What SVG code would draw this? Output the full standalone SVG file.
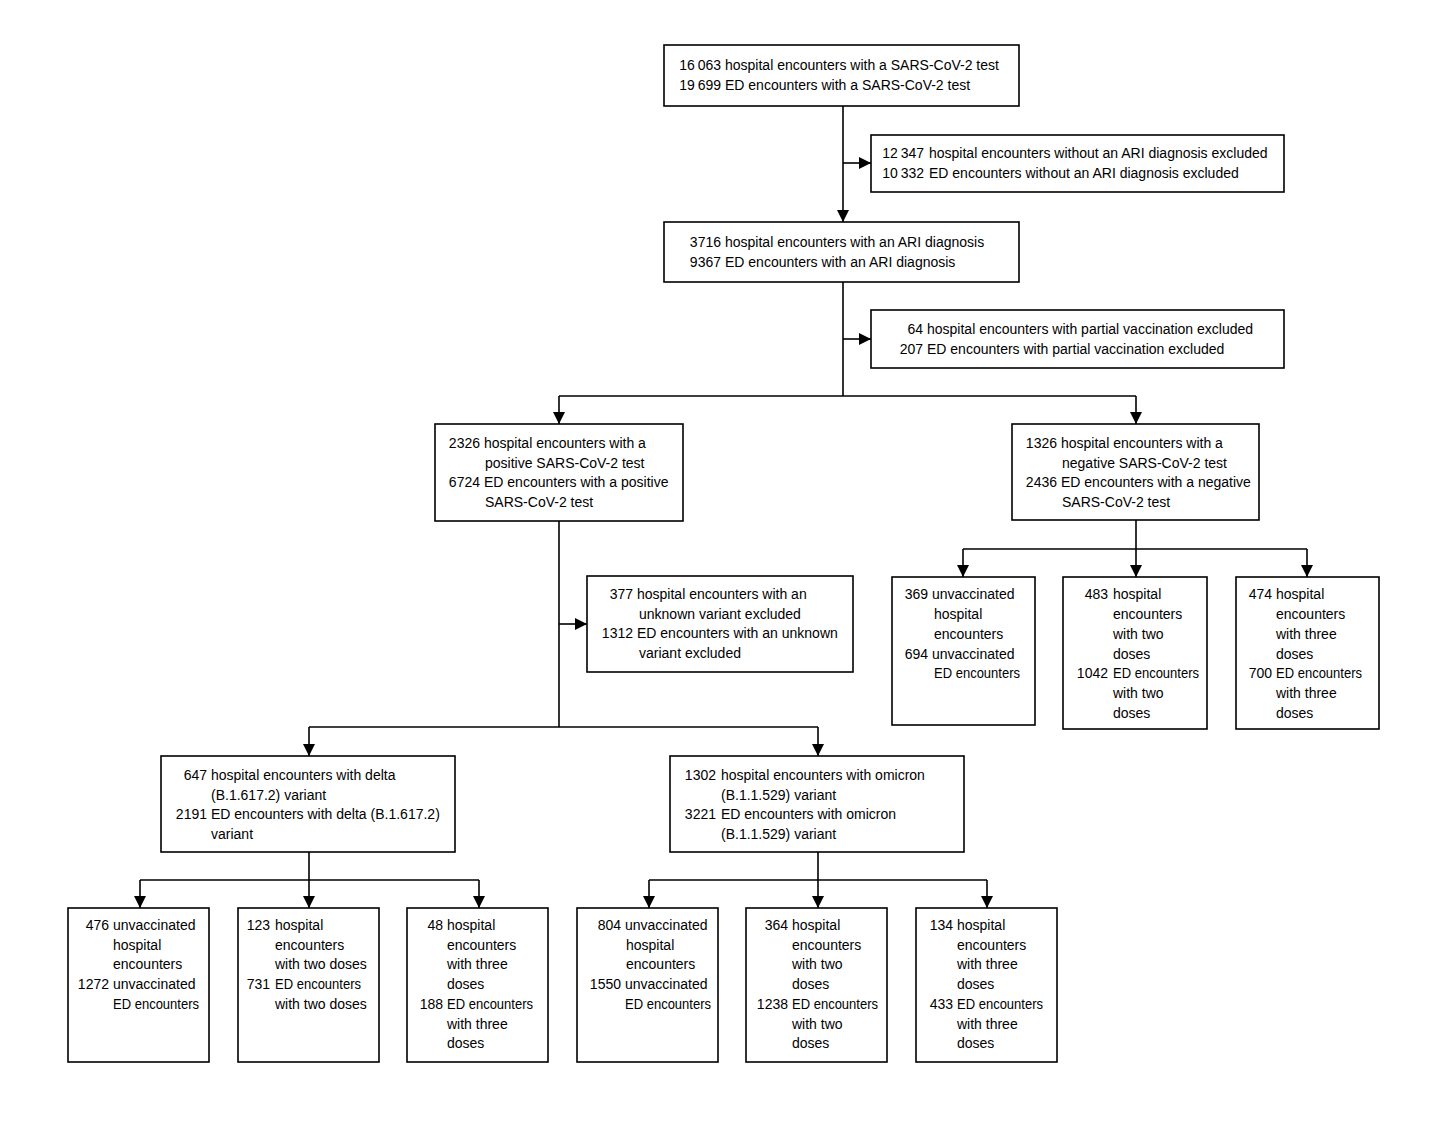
<svg xmlns="http://www.w3.org/2000/svg" width="1456" height="1122" viewBox="0 0 1456 1122">
<style>
.box{fill:#fff;stroke:#000;stroke-width:1.6}
text{font-family:"Liberation Sans",Arial,sans-serif;font-size:14px;fill:#000}
.n{text-anchor:end}
.c{fill:none;stroke:#000;stroke-width:1.6}
</style>
<defs>
<marker id="a" markerUnits="userSpaceOnUse" markerWidth="12" markerHeight="12" viewBox="0 0 12 12" refX="12" refY="6" orient="auto">
<path d="M0,0 L12,6 L0,12 z" fill="#000"/>
</marker>
</defs>
<rect width="1456" height="1122" fill="#fff"/>
<g id="connectors">
<path class="c" d="M843,106 V222" marker-end="url(#a)"/>
<path class="c" d="M843,163 H871" marker-end="url(#a)"/>
<path class="c" d="M843,282 V396"/>
<path class="c" d="M843,339 H871" marker-end="url(#a)"/>
<path class="c" d="M559,396 H1136"/>
<path class="c" d="M559,396 V424" marker-end="url(#a)"/>
<path class="c" d="M1136,396 V424" marker-end="url(#a)"/>
<path class="c" d="M559,521 V727"/>
<path class="c" d="M559,624 H587" marker-end="url(#a)"/>
<path class="c" d="M309,727 H818"/>
<path class="c" d="M309,727 V756" marker-end="url(#a)"/>
<path class="c" d="M818,727 V756" marker-end="url(#a)"/>
<path class="c" d="M309,852 V880"/>
<path class="c" d="M140,880 H479"/>
<path class="c" d="M140,880 V908" marker-end="url(#a)"/>
<path class="c" d="M309,880 V908" marker-end="url(#a)"/>
<path class="c" d="M479,880 V908" marker-end="url(#a)"/>
<path class="c" d="M818,852 V880"/>
<path class="c" d="M649,880 H987"/>
<path class="c" d="M649,880 V908" marker-end="url(#a)"/>
<path class="c" d="M818,880 V908" marker-end="url(#a)"/>
<path class="c" d="M987,880 V908" marker-end="url(#a)"/>
<path class="c" d="M1136,520 V549"/>
<path class="c" d="M963,549 H1307"/>
<path class="c" d="M963,549 V577" marker-end="url(#a)"/>
<path class="c" d="M1136,549 V577" marker-end="url(#a)"/>
<path class="c" d="M1307,549 V577" marker-end="url(#a)"/>
</g>
<g id="n-tests">
<rect class="box" x="664" y="45" width="355" height="61"/>
<text class="n" x="721" y="70">16&#8201;063</text><text x="725" y="70">hospital encounters with a SARS-CoV-2 test</text>
<text class="n" x="721" y="90">19&#8201;699</text><text x="725" y="90">ED encounters with a SARS-CoV-2 test</text>
</g>
<g id="n-excl-ari">
<rect class="box" x="871" y="135" width="413" height="57"/>
<text class="n" x="924" y="158">12&#8201;347</text><text x="929" y="158">hospital encounters without an ARI diagnosis excluded</text>
<text class="n" x="924" y="178">10&#8201;332</text><text x="929" y="178">ED encounters without an ARI diagnosis excluded</text>
</g>
<g id="n-ari">
<rect class="box" x="664" y="222" width="355" height="60"/>
<text class="n" x="721" y="247">3716</text><text x="725" y="247">hospital encounters with an ARI diagnosis</text>
<text class="n" x="721" y="267">9367</text><text x="725" y="267">ED encounters with an ARI diagnosis</text>
</g>
<g id="n-excl-partial">
<rect class="box" x="871" y="310" width="413" height="58"/>
<text class="n" x="923" y="334">64</text><text x="927" y="334">hospital encounters with partial vaccination excluded</text>
<text class="n" x="923" y="354">207</text><text x="927" y="354">ED encounters with partial vaccination excluded</text>
</g>
<g id="n-positive">
<rect class="box" x="435" y="424" width="248" height="97"/>
<text class="n" x="480" y="448">2326</text><text x="484" y="448">hospital encounters with a</text>
<text x="485" y="468">positive SARS-CoV-2 test</text>
<text class="n" x="480" y="487">6724</text><text x="484" y="487">ED encounters with a positive</text>
<text x="485" y="507">SARS-CoV-2 test</text>
</g>
<g id="n-negative">
<rect class="box" x="1012" y="424" width="247" height="96"/>
<text class="n" x="1057" y="448">1326</text><text x="1061" y="448">hospital encounters with a</text>
<text x="1062" y="468">negative SARS-CoV-2 test</text>
<text class="n" x="1057" y="487">2436</text><text x="1061" y="487">ED encounters with a negative</text>
<text x="1062" y="507">SARS-CoV-2 test</text>
</g>
<g id="n-excl-unknown">
<rect class="box" x="587" y="576" width="266" height="96"/>
<text class="n" x="633" y="599">377</text><text x="637" y="599">hospital encounters with an</text>
<text x="639" y="619">unknown variant excluded</text>
<text class="n" x="633" y="638">1312</text><text x="637" y="638">ED encounters with an unknown</text>
<text x="639" y="658">variant excluded</text>
</g>
<g id="n-delta">
<rect class="box" x="161" y="756" width="294" height="96"/>
<text class="n" x="207" y="780">647</text><text x="211" y="780">hospital encounters with delta</text>
<text x="211" y="800">(B.1.617.2) variant</text>
<text class="n" x="207" y="819">2191</text><text x="211" y="819">ED encounters with delta (B.1.617.2)</text>
<text x="211" y="839">variant</text>
</g>
<g id="n-omicron">
<rect class="box" x="670" y="756" width="294" height="96"/>
<text class="n" x="716" y="780">1302</text><text x="721" y="780">hospital encounters with omicron</text>
<text x="721" y="800">(B.1.1.529) variant</text>
<text class="n" x="716" y="819">3221</text><text x="721" y="819">ED encounters with omicron</text>
<text x="721" y="839">(B.1.1.529) variant</text>
</g>
<g id="n-delta-unvax">
<rect class="box" x="68" y="908" width="141" height="154"/>
<text class="n" x="109" y="930">476</text><text x="113" y="930">unvaccinated</text>
<text x="113" y="950">hospital</text>
<text x="113" y="969">encounters</text>
<text class="n" x="109" y="989">1272</text><text x="113" y="989">unvaccinated</text>
<text x="113" y="1009" textLength="86" lengthAdjust="spacingAndGlyphs">ED encounters</text>
</g>
<g id="n-delta-two">
<rect class="box" x="238" y="908" width="141" height="154"/>
<text class="n" x="270" y="930">123</text><text x="275" y="930">hospital</text>
<text x="275" y="950">encounters</text>
<text x="275" y="969">with two doses</text>
<text class="n" x="270" y="989">731</text><text x="275" y="989" textLength="86" lengthAdjust="spacingAndGlyphs">ED encounters</text>
<text x="275" y="1009">with two doses</text>
</g>
<g id="n-delta-three">
<rect class="box" x="407" y="908" width="141" height="154"/>
<text class="n" x="443" y="930">48</text><text x="447" y="930">hospital</text>
<text x="447" y="950">encounters</text>
<text x="447" y="969">with three</text>
<text x="447" y="989">doses</text>
<text class="n" x="443" y="1009">188</text><text x="447" y="1009" textLength="86" lengthAdjust="spacingAndGlyphs">ED encounters</text>
<text x="447" y="1029">with three</text>
<text x="447" y="1048">doses</text>
</g>
<g id="n-omicron-unvax">
<rect class="box" x="577" y="908" width="141" height="154"/>
<text class="n" x="621" y="930">804</text><text x="625" y="930">unvaccinated</text>
<text x="626" y="950">hospital</text>
<text x="626" y="969">encounters</text>
<text class="n" x="621" y="989">1550</text><text x="625" y="989">unvaccinated</text>
<text x="625" y="1009" textLength="86" lengthAdjust="spacingAndGlyphs">ED encounters</text>
</g>
<g id="n-omicron-two">
<rect class="box" x="746" y="908" width="141" height="154"/>
<text class="n" x="788" y="930">364</text><text x="792" y="930">hospital</text>
<text x="792" y="950">encounters</text>
<text x="792" y="969">with two</text>
<text x="792" y="989">doses</text>
<text class="n" x="788" y="1009">1238</text><text x="792" y="1009" textLength="86" lengthAdjust="spacingAndGlyphs">ED encounters</text>
<text x="792" y="1029">with two</text>
<text x="792" y="1048">doses</text>
</g>
<g id="n-omicron-three">
<rect class="box" x="916" y="908" width="141" height="154"/>
<text class="n" x="953" y="930">134</text><text x="957" y="930">hospital</text>
<text x="957" y="950">encounters</text>
<text x="957" y="969">with three</text>
<text x="957" y="989">doses</text>
<text class="n" x="953" y="1009">433</text><text x="957" y="1009" textLength="86" lengthAdjust="spacingAndGlyphs">ED encounters</text>
<text x="957" y="1029">with three</text>
<text x="957" y="1048">doses</text>
</g>
<g id="n-neg-unvax">
<rect class="box" x="892" y="577" width="143" height="148"/>
<text class="n" x="928" y="599">369</text><text x="932" y="599">unvaccinated</text>
<text x="934" y="619">hospital</text>
<text x="934" y="639">encounters</text>
<text class="n" x="928" y="659">694</text><text x="932" y="659">unvaccinated</text>
<text x="934" y="678" textLength="86" lengthAdjust="spacingAndGlyphs">ED encounters</text>
</g>
<g id="n-neg-two">
<rect class="box" x="1063" y="577" width="144" height="152"/>
<text class="n" x="1108" y="599">483</text><text x="1113" y="599">hospital</text>
<text x="1113" y="619">encounters</text>
<text x="1113" y="639">with two</text>
<text x="1113" y="659">doses</text>
<text class="n" x="1108" y="678">1042</text><text x="1113" y="678" textLength="86" lengthAdjust="spacingAndGlyphs">ED encounters</text>
<text x="1113" y="698">with two</text>
<text x="1113" y="718">doses</text>
</g>
<g id="n-neg-three">
<rect class="box" x="1236" y="577" width="143" height="152"/>
<text class="n" x="1272" y="599">474</text><text x="1276" y="599">hospital</text>
<text x="1276" y="619">encounters</text>
<text x="1276" y="639">with three</text>
<text x="1276" y="659">doses</text>
<text class="n" x="1272" y="678">700</text><text x="1276" y="678" textLength="86" lengthAdjust="spacingAndGlyphs">ED encounters</text>
<text x="1276" y="698">with three</text>
<text x="1276" y="718">doses</text>
</g>
</svg>
